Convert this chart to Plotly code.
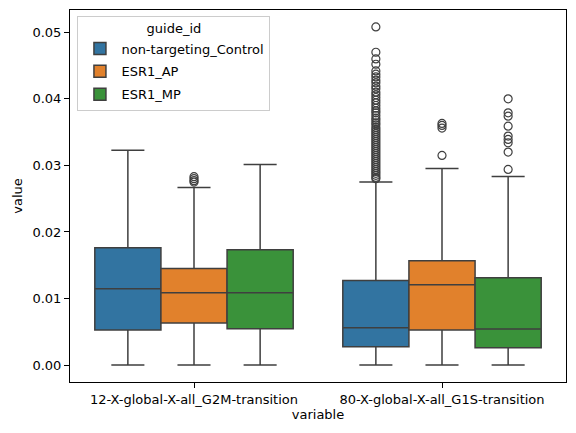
import plotly.graph_objects as go

variables = ["12-X-global-X-all_G2M-transition", "80-X-global-X-all_G1S-transition"]
guides = ["non-targeting_Control", "ESR1_AP", "ESR1_MP"]
colors = ["#3274a1", "#e1812c", "#3a923a"]

# box stats per guide, one value per variable
q1 = {
    "non-targeting_Control": [0.00528, 0.00276],
    "ESR1_AP": [0.00633, 0.00528],
    "ESR1_MP": [0.00547, 0.00261],
}
median = {
    "non-targeting_Control": [0.01146, 0.00562],
    "ESR1_AP": [0.01085, 0.01206],
    "ESR1_MP": [0.01085, 0.00543],
}
q3 = {
    "non-targeting_Control": [0.01764, 0.01271],
    "ESR1_AP": [0.01452, 0.01568],
    "ESR1_MP": [0.01734, 0.01312],
}
lower = {
    "non-targeting_Control": [0.0, 0.0],
    "ESR1_AP": [0.0, 0.0],
    "ESR1_MP": [0.0, 0.0],
}
upper = {
    "non-targeting_Control": [0.03226, 0.02749],
    "ESR1_AP": [0.02668, 0.02955],
    "ESR1_MP": [0.03015, 0.02834],
}

# outliers per guide, per variable
outliers = {
    "non-targeting_Control": [
        [],
        [0.0508, 0.0470, 0.0460, 0.0452, 0.0442, 0.0437, 0.0433, 0.0428, 0.0424,
         0.0419, 0.0415, 0.0410, 0.0406, 0.0402, 0.0398, 0.0394, 0.0390, 0.0386,
         0.0382, 0.0379, 0.0375, 0.0371, 0.0368, 0.0364, 0.0361, 0.0357, 0.0354,
         0.0351, 0.0348, 0.0345, 0.0342, 0.0339, 0.0336, 0.0333, 0.0330, 0.0327,
         0.0324, 0.0321, 0.0318, 0.0315, 0.0312, 0.0309, 0.0306, 0.0303, 0.0300,
         0.0297, 0.0294, 0.0291, 0.0288, 0.0285, 0.0282, 0.0280],
    ],
    "ESR1_AP": [
        [0.0283, 0.0280, 0.0277, 0.0275],
        [0.0363, 0.0360, 0.0356, 0.0315],
    ],
    "ESR1_MP": [
        [],
        [0.0400, 0.0379, 0.0374, 0.0359, 0.0344, 0.0339, 0.0334, 0.0320, 0.0294],
    ],
}

box_w = 0.8 / len(guides)
line_col = "#3f3f3f"
fsize = 13

fig = go.Figure()
for h, g in enumerate(guides):
    xs = [i + (h - 1) * box_w for i in range(len(variables))]
    fig.add_trace(go.Box(
        x=xs, q1=q1[g], median=median[g], q3=q3[g],
        lowerfence=lower[g], upperfence=upper[g],
        width=box_w, whiskerwidth=0.5, name=g, legendgroup=g,
        fillcolor=colors[h], line=dict(color=line_col, width=1.5),
        boxpoints=False,
    ))
    ox, oy = [], []
    for i, vals in enumerate(outliers[g]):
        ox += [xs[i]] * len(vals)
        oy += vals
    fig.add_trace(go.Scatter(
        x=ox, y=oy, mode="markers", showlegend=False, hoverinfo="y",
        legendgroup=g,
        marker=dict(symbol="circle-open", size=8, color=line_col, line=dict(width=1.2)),
    ))

axis_style = dict(showline=True, linecolor="black", linewidth=1, mirror=True,
                  ticks="outside", ticklen=5, tickcolor="black", showgrid=False,
                  zeroline=False, automargin=False,
                  tickfont=dict(size=fsize, color="black"))

# the page body adds an 8px offset, so the figure is a bit smaller than the window
fig.update_layout(
    width=568, height=425,
    margin=dict(l=62, r=10, t=2, b=51),
    plot_bgcolor="white", paper_bgcolor="white",
    font=dict(family="DejaVu Sans", size=fsize, color="black"),
    boxmode="overlay",
    legend=dict(
        x=0.015, y=0.985, xanchor="left", yanchor="top",
        title=dict(text="guide_id", side="top center", font=dict(size=fsize)),
        font=dict(size=fsize), itemwidth=33,
        bordercolor="#cccccc", borderwidth=1, bgcolor="rgba(255,255,255,0.8)",
        tracegroupgap=3,
    ),
)
fig.update_xaxes(
    range=[-0.5, 1.5], tickvals=list(range(len(variables))), ticktext=variables,
    title=dict(text="variable", standoff=4, font=dict(size=fsize)), **axis_style,
)
fig.update_yaxes(
    range=[-0.00255, 0.05335], tickvals=[0, 0.01, 0.02, 0.03, 0.04, 0.05],
    tickformat=".2f", title=dict(text="value", standoff=6, font=dict(size=fsize)),
    **axis_style,
)

fig.write_html("out.html")
